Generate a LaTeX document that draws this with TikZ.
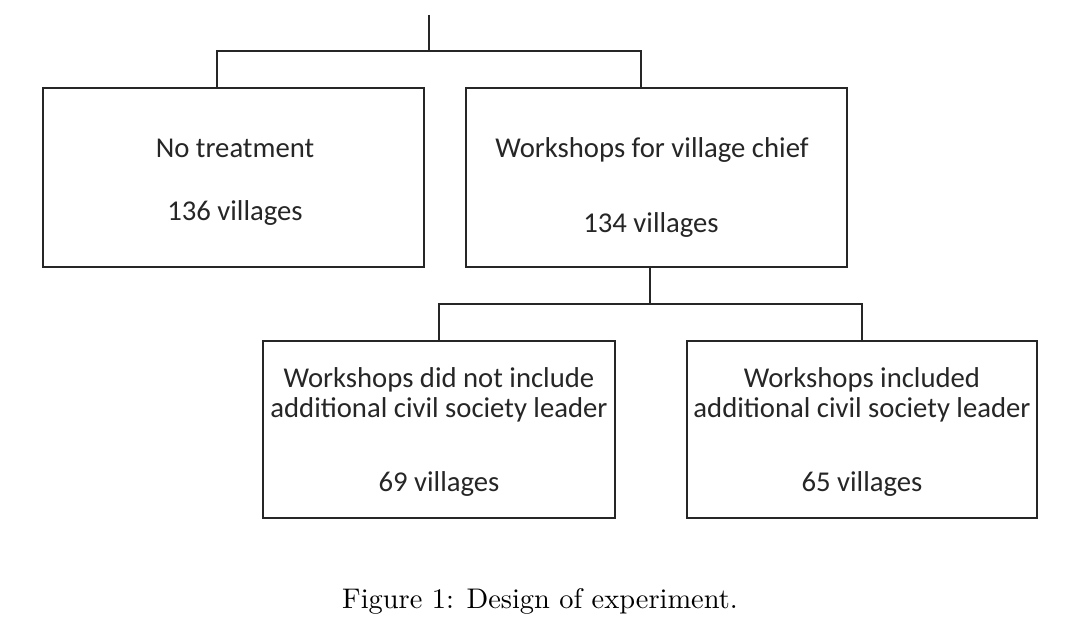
\documentclass[tikz,border=0pt]{standalone}
\usepackage{fontspec}
\newfontfamily\boxfont{Carlito}
\begin{document}
\begin{tikzpicture}[x=1pt,y=-1pt,
  box/.style={draw=black!85, line width=1.5pt, inner sep=0pt},
  lbl/.style={font=\boxfont\fontsize{28.7}{30}\selectfont, text=black!85, anchor=base, inner sep=0pt},
  link/.style={draw=black!85, line width=1.5pt},
  figcaption/.style={anchor=base, inner sep=0pt, scale=2.84, transform shape}]
\useasboundingbox (0,0) rectangle (1080,639);

% treatment boxes
\node[box, minimum width=381pt, minimum height=179pt] (nt) at (233.5,177.5) {};
\node[box, minimum width=381pt, minimum height=179pt] (wc) at (656.5,177.5) {};
\node[box, minimum width=352pt, minimum height=177pt] (ex) at (439,429.5) {};
\node[box, minimum width=350pt, minimum height=177pt] (in) at (862,429.5) {};

% box texts
\node[lbl] (nt1) at (235,158) {No treatment};
\node[lbl] (nt2) at (235,221) {136 villages};
\node[lbl] (wc1) at (652,158) {Workshops for village chief};
\node[lbl] (wc2) at (651,233) {134 villages};
\node[lbl] (ex1) at (439,387) {Workshops did not include};
\node[lbl] (ex2) at (439,417) {additional civil society leader};
\node[lbl] (ex3) at (439,491) {69 villages};
\node[lbl] (in1) at (862,387) {Workshops included};
\node[lbl] (in2) at (862,417) {additional civil society leader};
\node[lbl] (in3) at (862,491) {65 villages};

% first split
\coordinate (top) at (429,15);
\coordinate (fork1) at (429,51);
\coordinate (ntin) at ([xshift=-16.5pt]nt.north);
\coordinate (wcin) at ([xshift=-15.5pt]wc.north);
\draw[link] (top) -- (fork1);
\draw[link] (ntin) -- (ntin |- fork1) -- (wcin |- fork1) -- (wcin);

% second split
\coordinate (wcout) at ([xshift=-6.5pt]wc.south);
\coordinate (fork2) at (650,304);
\draw[link] (wcout) -- (fork2);
\draw[link] (ex.north) -- (ex.north |- fork2) -- (in.north |- fork2) -- (in.north);

% caption
\node[figcaption] (caption) at (540,608) {Figure 1: Design of experiment.};
\end{tikzpicture}
\end{document}
